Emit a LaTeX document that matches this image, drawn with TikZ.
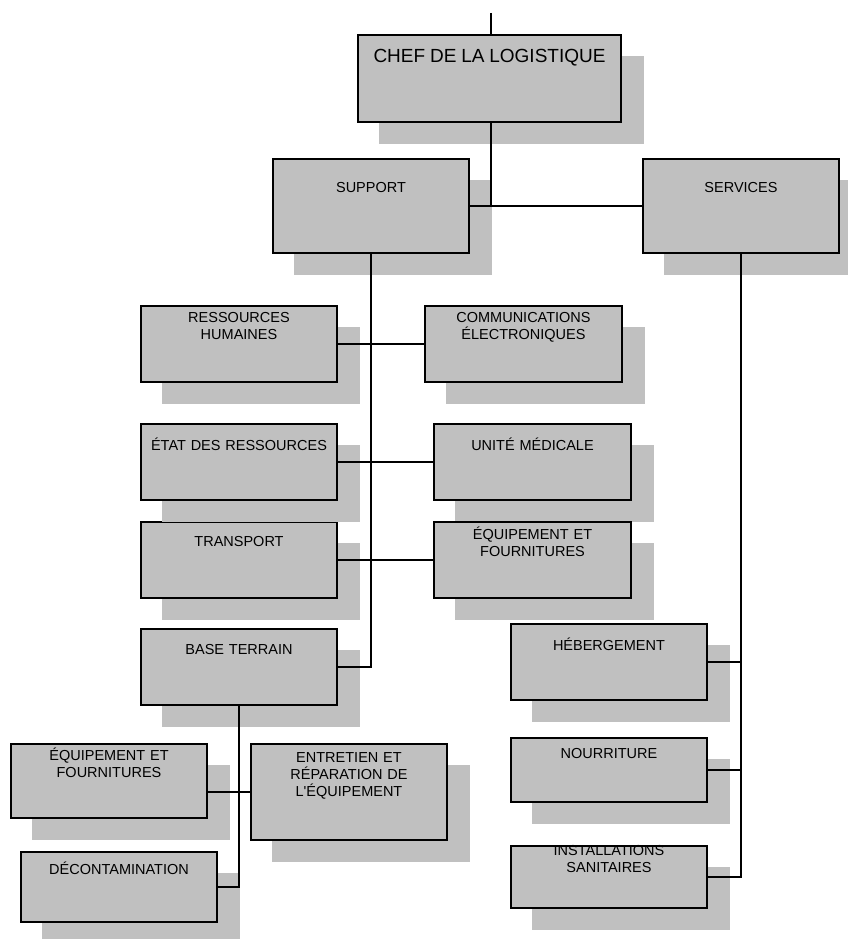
\documentclass[tikz,border=0pt]{standalone}
\usepackage{fontspec}
\setmainfont{Liberation Sans}
\definecolor{boxgray}{RGB}{192,192,192}
\tikzset{
  unitbox/.style={draw=black, fill=boxgray, line width=1.5pt, inner sep=0pt, outer sep=0pt, anchor=north west},
  shadowbox/.style={fill=boxgray},
  boxtext/.style={inner sep=0pt, align=center, anchor=base, text=black, font=\fontsize{14.5}{17}\selectfont},
  orgline/.style={draw=black, line width=1.6pt}
}
% \orgbox{name}{left}{top}{right}{bottom}{text}{baseline}
\newcommand\orgbox[7]{%
  \pgfmathsetmacro\orgbw{#4-#2}%
  \pgfmathsetmacro\orgbh{#5-#3}%
  \pgfmathsetmacro\orgcx{(#2+#4)/2}%
  \fill[shadowbox] (#2+21,#3+21) rectangle (#4+23,#5+22);
  \node[unitbox, minimum width=\orgbw pt, minimum height=\orgbh pt] (#1) at (#2,#3) {};
  \node[boxtext, text width=\orgbw pt] (#1-label) at (\orgcx,#7) {#6};
}
\begin{document}
\begin{tikzpicture}[x=1pt,y=-1pt]
\useasboundingbox (0,0) rectangle (848,939);
\clip (0,0) rectangle (848,939);

% units
\orgbox{chef}{358}{35}{621}{122}{\fontsize{19}{22}\selectfont CHEF DE LA LOGISTIQUE}{62.5}
\orgbox{sup}{273}{159}{469}{253}{SUPPORT}{192.5}
\orgbox{serv}{643}{159}{839}{253}{SERVICES}{192.5}
\orgbox{rh}{141}{306}{337}{382}{RESSOURCES\\HUMAINES}{322.5}
\orgbox{comm}{425}{306}{622}{382}{COMMUNICATIONS\\ÉLECTRONIQUES}{322.5}
\orgbox{transp}{141}{522}{337}{598}{TRANSPORT}{546.5}
\orgbox{etat}{141}{424}{337}{500}{ÉTAT DES RESSOURCES}{450}
\orgbox{unite}{434}{424}{631}{500}{UNITÉ MÉDICALE}{450.5}
\orgbox{equipa}{434}{522}{631}{598}{ÉQUIPEMENT ET\\FOURNITURES}{539}
\orgbox{base}{141}{629}{337}{705}{BASE TERRAIN}{654}
\orgbox{heb}{511}{624}{707}{700}{HÉBERGEMENT}{650.5}
\orgbox{nourr}{511}{738}{707}{802}{NOURRITURE}{758}
\orgbox{inst}{511}{846}{707}{908}{INSTALLATIONS\\SANITAIRES}{855.5}
\orgbox{equipb}{11}{744}{207}{818}{ÉQUIPEMENT ET\\FOURNITURES}{760}
\orgbox{entr}{251}{744}{447}{840}{ENTRETIEN ET\\RÉPARATION DE\\L\textquotesingle ÉQUIPEMENT}{762}
\orgbox{decon}{21}{852}{217}{922}{DÉCONTAMINATION}{874}

% reporting lines
\coordinate (top) at (491,13);
\draw[orgline] (top) -- (top |- chef.north);
\draw[orgline] (top |- chef.south) -- (top |- sup.east);
\draw[orgline] (sup.east) -- (serv.west);
\draw[orgline] (sup.south) |- (base.east);
\draw[orgline] (rh.east) -- (comm.west);
\draw[orgline] (etat.east) -- (unite.west);
\draw[orgline] (transp.east) -- (equipa.west);
\draw[orgline] (base.south) |- (decon.east);
\draw[orgline] (entr.west) -- (entr.west -| equipb.east);
\draw[orgline] (serv.south) |- (inst.east);
\draw[orgline] (heb.east) -- (heb.east -| serv.south);
\draw[orgline] (nourr.east) -- (nourr.east -| serv.south);
\end{tikzpicture}
\end{document}
